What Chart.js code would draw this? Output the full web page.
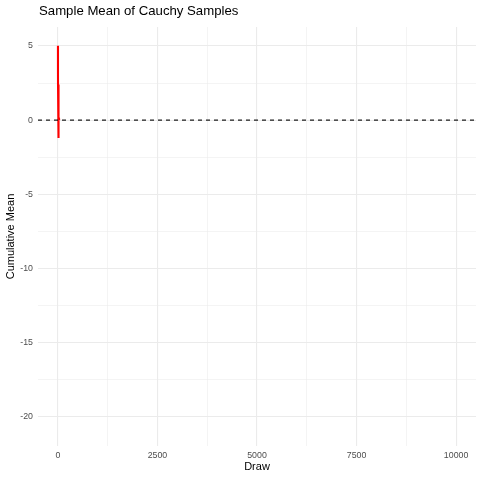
<!DOCTYPE html>
<html>
<head>
<meta charset="utf-8">
<script src="https://cdn.jsdelivr.net/npm/chart.js@4.4.1/dist/chart.umd.min.js"></script>
<style>
  html, body { margin: 0; padding: 0; background: #ffffff; }
  #wrap { width: 480px; height: 480px; }
</style>
</head>
<body>
<div id="wrap"><canvas id="myChart" width="480" height="480"></canvas></div>
<script>
// data
const draws = [1, 2, 3, 4, 5, 6, 7, 8, 9, 10, 11, 12, 13, 14, 15, 16, 17, 18, 19, 20, 21, 22, 23, 24, 25, 26, 27, 28, 29, 30];
const cumMean = [5.02, 3.1, 2.4, 1.65, 1.2, 0.95, 0.7, 0.3, 0.25, 0.1, -0.4, -0.9, -1.2, -1.05, -0.8, -0.6, -0.45, -0.3, -0.2, -0.1, 0.05, 0.15, 0.2, 0.25, 0.3, 0.28, 0.2, 0.1, 0.05, 0.0];
const refLine = [0];
const xMajor = [0, 2500, 5000, 7500, 10000];
const xMinor = [1250, 3750, 6250, 8750];
const yMajor = [-20, -15, -10, -5, 0, 5];
const yMinor = [-17.5, -12.5, -7.5, -2.5, 2.5];
const xRange = [-500, 10500];
const yRange = [-21.98, 6.28];

const FONT = "'Liberation Sans', Arial, sans-serif";

function gridColor(ctx) {
    return '#ebebeb';
}
function gridWidth(ctx, minor) {
    if (!ctx.tick) return 0;
    return minor.includes(ctx.tick.value) ? 0.55 : 1.1;
}
function setTicks(major, minor) {
    return function (scale) {
        scale.ticks = major.concat(minor).sort((a, b) => a - b).map(v => ({ value: v }));
    };
}

const refLinePlugin = {
    id: 'refLine',
    afterDatasetsDraw: (chart) => {
        // dashed horizontal line drawn through the y scale
        const ctx = chart.ctx;
        const area = chart.chartArea;
        ctx.save();
        ctx.strokeStyle = '#000000';
        ctx.lineWidth = 1.1;
        ctx.setLineDash([4, 4]);
        refLine.forEach(v => {
            const y = chart.scales.y.getPixelForValue(v);
            ctx.beginPath();
            ctx.moveTo(area.left, y);
            ctx.lineTo(area.right, y);
            ctx.stroke();
        });
        ctx.restore();
    }
};

const titlePlugin = {
    id: 'plotTitle',
    afterDraw: (chart) => {
        const ctx = chart.ctx;
        ctx.save();
        ctx.fillStyle = '#000000';
        ctx.font = '13.2px ' + FONT;
        ctx.textBaseline = 'alphabetic';
        ctx.textAlign = 'left';
        ctx.fillText('Sample Mean of Cauchy Samples', chart.chartArea.left + 1, 15);
        ctx.restore();
    }
};

const configuration = {
    type: 'line',
    data: {
        datasets: [{
            label: 'Cumulative Mean',
            data: draws.map((d, i) => ({ x: d, y: cumMean[i] })),
            borderColor: '#ff0000',
            borderWidth: 2.1,
            pointRadius: 0,
            fill: false,
            tension: 0
        }]
    },
    options: {
        responsive: false,
        animation: false,
        layout: { padding: { top: 27, right: 4, left: 0, bottom: 0 } },
        plugins: {
            legend: { display: false },
            tooltip: { enabled: false },
            title: { display: false }
        },
        scales: {
            x: {
                type: 'linear',
                min: xRange[0],
                max: xRange[1],
                afterBuildTicks: setTicks(xMajor, xMinor),
                afterFit: (scale) => { scale.height = 34; },
                border: { display: false },
                grid: {
                    color: gridColor,
                    lineWidth: (ctx) => gridWidth(ctx, xMinor),
                    drawTicks: false
                },
                ticks: {
                    autoSkip: false,
                    maxRotation: 0,
                    padding: 4,
                    color: '#4d4d4d',
                    font: { family: FONT, size: 8.8 },
                    callback: (v) => xMajor.includes(v) ? String(v) : ''
                },
                title: {
                    display: true,
                    text: 'Draw',
                    color: '#000000',
                    font: { family: FONT, size: 11 },
                    padding: { top: 0, bottom: 6 }
                }
            },
            y: {
                type: 'linear',
                min: yRange[0],
                max: yRange[1],
                afterBuildTicks: setTicks(yMajor, yMinor),
                afterFit: (scale) => { scale.width = 38; },
                border: { display: false },
                grid: {
                    color: gridColor,
                    lineWidth: (ctx) => gridWidth(ctx, yMinor),
                    drawTicks: false
                },
                ticks: {
                    autoSkip: false,
                    padding: 5,
                    color: '#4d4d4d',
                    font: { family: FONT, size: 8.8 },
                    callback: (v) => yMajor.includes(v) ? String(v) : ''
                },
                title: {
                    display: true,
                    text: 'Cumulative Mean',
                    color: '#000000',
                    font: { family: FONT, size: 11 },
                    padding: { top: 4, bottom: 0 }
                }
            }
        }
    },
    plugins: [refLinePlugin, titlePlugin, {
        beforeDraw: (chart) => {
            const ctx = chart.canvas.getContext('2d');
            ctx.save();
            ctx.globalCompositeOperation = 'destination-over';
            ctx.fillStyle = 'white';
            ctx.fillRect(0, 0, chart.width, chart.height);
            ctx.restore();
        }
    }]
};

new Chart(document.getElementById('myChart'), configuration);
</script>
</body>
</html>
